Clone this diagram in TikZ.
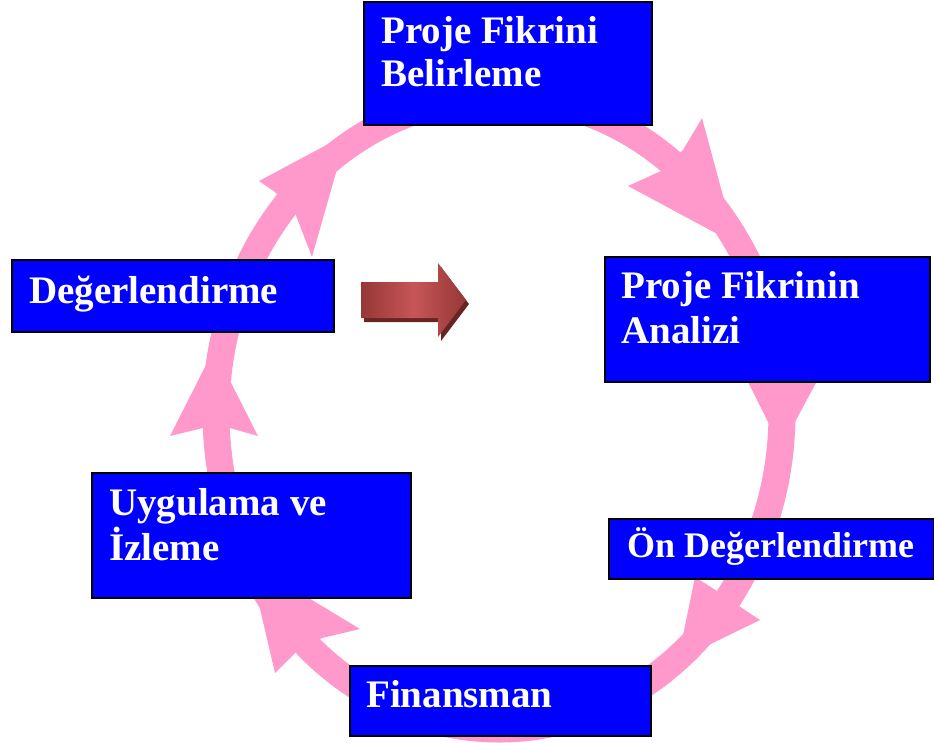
\documentclass[tikz,border=0pt]{standalone}
\usepackage{fontspec}
\setmainfont{Liberation Serif}
\usetikzlibrary{calc}
\definecolor{ringpink}{RGB}{255,153,204}
\definecolor{boxblue}{RGB}{0,0,255}
\definecolor{arrowdark}{RGB}{150,55,55}
\definecolor{arrowlight}{RGB}{198,86,86}
\definecolor{arrowshadow}{RGB}{105,35,35}
\begin{document}
\begin{tikzpicture}[x=1pt,y=-1pt,
  stagebox/.style={draw=black, line width=1.5pt, fill=boxblue, inner sep=0pt, anchor=north west},
  stagetext/.style={text=white, font=\bfseries\fontsize{39}{44}\selectfont, inner sep=0pt, anchor=base west},
  ringhead/.style={fill=ringpink, draw=none}]

\useasboundingbox (0,0) rectangle (934,742);

% the cycle ring
\draw[ringpink, line width=27pt] (499,413) ellipse [x radius=283, y radius=316];

% arrowheads along the ring (clockwise)
\fill[ringhead] (347,134) -- (259,181) -- (275,192) -- (295,213) -- (312,257) -- cycle;
\fill[ringhead] (736,244) -- (702,118) -- (683,150) -- (661,171) -- (628,186) -- cycle;
\fill[ringhead] (781,448) -- (824,368) -- (793,374) -- (766,374) -- (741,368) -- cycle;
\fill[ringhead] (678,660) -- (760,620) -- (739,606) -- (717,591) -- (695,577) -- cycle;
\fill[ringhead] (249,562) -- (360,629) -- (322,638) -- (295,653) -- (275,673) -- cycle;
\fill[ringhead] (214,349) -- (170,436) -- (203,428) -- (230,428) -- (258,436) -- cycle;

% block arrow in the middle
\fill[arrowshadow, shift={(3,4)}] (361,282) -- (438,282) -- (438,263) -- (466,300) -- (438,337) -- (438,318) -- (361,318) -- cycle;
\shade[left color=arrowdark, right color=arrowdark, middle color=arrowlight]
  (361,282) -- (438,282) -- (438,263) -- (466,300) -- (438,337) -- (438,318) -- (361,318) -- cycle;

% stage boxes
\node[stagebox, minimum width=288pt, minimum height=123pt] (idea) at (363,1) {};
\node[stagebox, minimum width=325pt, minimum height=125pt] (analysis) at (604,256) {};
\node[stagebox, minimum width=322pt, minimum height=72pt] (evaluation) at (11,259) {};
\node[stagebox, minimum width=319pt, minimum height=125pt] (implementation) at (91,472) {};
\node[stagebox, minimum width=325pt, minimum height=60pt] (preeval) at (608,518) {};
\node[stagebox, minimum width=301pt, minimum height=70pt] (finance) at (349,665) {};

% stage labels
\node[stagetext] (idea1) at ($(idea.north west)+(18,42)$) {Proje Fikrini};
\node[stagetext] (idea2) at ($(idea.north west)+(18,85)$) {Belirleme};
\node[stagetext] (analysis1) at ($(analysis.north west)+(17,42)$) {Proje Fikrinin};
\node[stagetext] (analysis2) at ($(analysis.north west)+(17,87)$) {Analizi};
\node[stagetext] (evaluation1) at ($(evaluation.north west)+(18,44)$) {Değerlendirme};
\node[stagetext] (implementation1) at ($(implementation.north west)+(18,43)$) {Uygulama ve};
\node[stagetext] (implementation2) at ($(implementation.north west)+(18,88)$) {İzleme};
\node[stagetext, font=\bfseries\fontsize{36}{44}\selectfont] (preeval1) at ($(preeval.north west)+(19,39)$) {Ön Değerlendirme};
\node[stagetext] (finance1) at ($(finance.north west)+(17,42)$) {Finansman};
\end{tikzpicture}
\end{document}
